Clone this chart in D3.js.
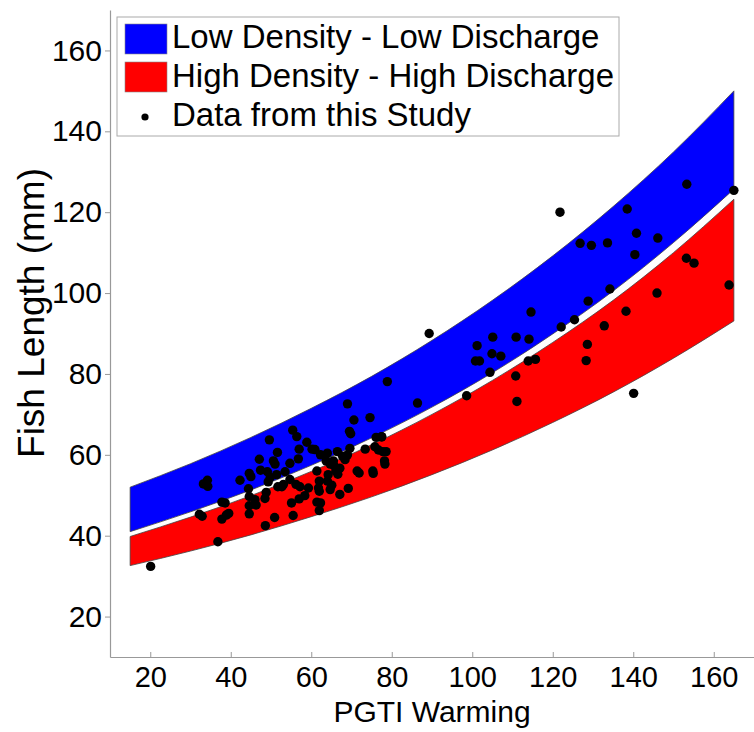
<!DOCTYPE html>
<html>
<head>
<meta charset="utf-8">
<script src="https://cdn.jsdelivr.net/npm/d3@7"></script>
<style>
  body { margin: 0; background: #fff; }
  svg { display: block; font-family: "Liberation Sans", Arial, sans-serif; }
</style>
</head>
<body>
<div id="chart"></div>
<script>
// band edges at these PGTI values
const bandX = [15, 30, 45, 60, 75, 90, 105, 120, 135, 150, 165];
const lowTop = [52, 57.8, 64.3, 71.5, 79.4, 88.3, 98.2, 109.2, 121.4, 134.9, 150];
const lowBottom = [41, 45.9, 51.3, 57.4, 64.2, 71.8, 80.3, 89.9, 100.5, 112.5, 125.7];
const highTop = [39.8, 44.6, 49.9, 55.9, 62.5, 70.0, 78.4, 87.8, 98.2, 110.0, 123.2];
const highBottom = [32.6, 36.2, 40.2, 44.7, 49.6, 55.1, 61.2, 68.0, 75.5, 83.9, 93.1];

// observations (PGTI warming, fish length)
const studyX = [
  20.1, 36.8, 32.2, 32.9, 33.2, 34.2, 34.3, 37.8, 38.6, 37.8, 38.9, 39.5,
  42.3, 44.6, 45.0, 44.4, 44.6, 44.6, 44.6, 46.0, 46.3, 47.1, 47.4, 48.6,
  48.5, 48.8, 49.1, 49.6, 49.3, 49.8, 50.6, 51.0, 50.9, 51.6, 51.4, 51.7,
  52.7, 53.1, 53.5, 54.7, 55.4, 56.4, 57.0, 56.8, 54.7, 55.1, 55.5, 56.2,
  57.2, 57.0, 58.4, 58.9, 59.3, 60.2, 60.9, 61.4, 61.8, 62.0, 61.4, 62.3,
  62.0, 62.3, 64.0, 63.7, 64.7, 64.0, 65.1, 64.7, 65.5, 65.6, 66.1, 66.6,
  66.5, 67.1, 67.8, 68.4, 69.0, 69.0, 69.5, 69.8, 69.2, 69.6, 70.6, 71.4,
  71.9, 73.4, 74.6, 75.3, 75.4, 76.1, 77.5, 75.8, 76.7, 77.8, 78.6, 78.2,
  78.3, 64.2, 67.1, 62.0, 77.5,
  78.9, 86.4, 89.3, 98.6, 105.1, 110.9, 114.1, 101.2, 104.9, 107.1, 100.8,
  101.8, 104.4, 110.8, 113.9, 115.7, 111.1, 114.6,
  121.8, 153.3, 165.0, 138.5, 126.8, 129.6, 133.6, 140.8, 146.1, 140.4,
  153.2, 155.1, 163.8, 134.2, 145.9, 128.8, 138.2, 125.4, 122.1, 132.8,
  128.6, 128.3, 140.1
];
const studyY = [
  32.4, 38.5, 45.3, 44.8, 52.8, 53.7, 52.2, 48.3, 48.1, 44.1, 45.1, 45.5,
  53.7, 55.4, 54.6, 51.6, 49.7, 47.4, 45.4, 48.9, 47.6, 58.9, 56.2, 42.5,
  49.2, 50.7, 55.8, 63.7, 53.3, 54.4, 58.5, 57.7, 44.5, 60.6, 55.1, 52.1,
  52.1, 52.7, 55.8, 57.9, 66.1, 64.5, 61.4, 59.0, 53.9, 48.1, 45.0, 52.7,
  52.1, 49.1, 49.9, 63.1, 51.8, 61.4, 61.3, 56.0, 51.8, 51.0, 48.3, 48.1,
  46.2, 60.0, 60.4, 58.5, 57.7, 53.5, 52.5, 51.4, 58.5, 57.4, 56.0, 55.2,
  60.8, 50.2, 59.6, 58.8, 60.0, 72.6, 65.8, 65.2, 51.7, 61.6, 68.6, 56.0,
  55.5, 61.4, 69.2, 56.0, 55.4, 64.3, 64.5, 62.0, 61.2, 60.8, 60.8, 58.5,
  57.7, 55.1, 56.7, 53.5, 64.4,
  78.1, 72.8, 90.0, 74.6, 89.1, 89.1, 88.6, 87.0, 85.0, 84.4, 83.2,
  83.2, 80.4, 79.5, 83.2, 83.6, 73.2, 95.3,
  120.0, 126.9, 125.4, 120.8, 112.3, 111.8, 112.4, 114.8, 113.6, 109.5,
  108.6, 107.4, 102.0, 101.0, 100.0, 98.0, 95.5, 93.4, 91.6, 91.9,
  87.3, 83.3, 75.2
];

const xTicks = [20, 40, 60, 80, 100, 120, 140, 160];
const yTicks = [20, 40, 60, 80, 100, 120, 140, 160];
const legendLabels = ["Low Density - Low Discharge", "High Density - High Discharge", "Data from this Study"];

const width = 754, height = 732;
const x = d3.scaleLinear().domain([10, 170]).range([110, 754]);
const y = d3.scaleLinear().domain([10, 170]).range([657, 10]);

const svg = d3.select("#chart").append("svg")
    .attr("width", width)
    .attr("height", height);

// band = upper edge left->right, then lower edge right->left
function bandPath(top, bottom) {
    const line = d3.line().curve(d3.curveMonotoneX);
    const upper = line(bandX.map((v, i) => [x(v), y(top[i])]));
    const lower = line(bandX.map((v, i) => [x(v), y(bottom[i])]).reverse());
    return upper + "L" + lower.slice(1) + "Z";
}

svg.append("path")
    .attr("d", bandPath(lowTop, lowBottom))
    .attr("fill", "#0000ff")
    .attr("stroke", "#444")
    .attr("stroke-width", 0.8);

svg.append("path")
    .attr("d", bandPath(highTop, highBottom))
    .attr("fill", "#ff0000")
    .attr("stroke", "#444")
    .attr("stroke-width", 0.8);

// points
svg.append("g")
    .selectAll("circle")
    .data(studyX.map((v, i) => [v, studyY[i]]))
    .join("circle")
    .attr("cx", d => x(d[0]))
    .attr("cy", d => y(d[1]))
    .attr("r", 4.7)
    .attr("fill", "#000");

// axes
const xAxis = svg.append("g")
    .attr("transform", `translate(0,${y(10)})`)
    .call(d3.axisBottom(x).tickValues(xTicks).tickSizeInner(-5).tickSizeOuter(0).tickPadding(9));

const yAxis = svg.append("g")
    .attr("transform", `translate(${x(10)},0)`)
    .call(d3.axisLeft(y).tickValues(yTicks).tickSizeInner(5).tickSizeOuter(0).tickPadding(3));

[xAxis, yAxis].forEach(g => {
    g.select(".domain").attr("stroke", "#999").attr("stroke-width", 1.2);
    g.selectAll(".tick line").attr("stroke", "#999");
    g.selectAll(".tick text")
        .attr("fill", "#000")
        .attr("font-size", 30)
        .attr("font-family", "Liberation Sans, Arial, sans-serif");
});
xAxis.selectAll(".tick text").attr("font-size", 29);

svg.append("text")
    .attr("x", 432)
    .attr("y", 722)
    .attr("text-anchor", "middle")
    .attr("font-size", 30)
    .text("PGTI Warming");

svg.append("text")
    .attr("transform", "translate(44,313) rotate(-90)")
    .attr("text-anchor", "middle")
    .attr("font-size", 37)
    .text("Fish Length (mm)");

// legend
const legend = svg.append("g");
legend.append("rect")
    .attr("x", 117).attr("y", 17)
    .attr("width", 502).attr("height", 119)
    .attr("fill", "#fff")
    .attr("stroke", "#aaa");

const swatchColors = ["#0000ff", "#ff0000"];
swatchColors.forEach((c, i) => {
    legend.append("rect")
        .attr("x", 125).attr("y", 24 + i * 38)
        .attr("width", 42).attr("height", 30)
        .attr("fill", c)
        .attr("stroke", "#888")
        .attr("stroke-width", 0.6);
});
legend.append("circle")
    .attr("cx", 145).attr("cy", 117)
    .attr("r", 3.6)
    .attr("fill", "#000");

legend.selectAll("text.lab")
    .data(legendLabels)
    .join("text")
    .attr("class", "lab")
    .attr("x", 172)
    .attr("y", (d, i) => 48 + i * 39)
    .attr("font-size", 33)
    .text(d => d);
</script>
</body>
</html>
